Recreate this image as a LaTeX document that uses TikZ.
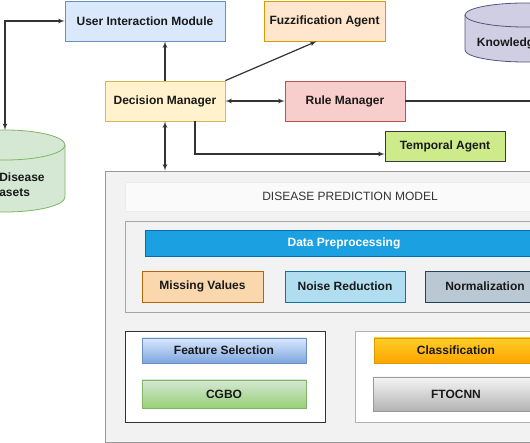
\documentclass[tikz,border=0pt]{standalone}
\usepackage{fontspec}
\setmainfont{Liberation Sans}
\usepackage{xcolor}
\usetikzlibrary{shapes,arrows}
\definecolor{uimfill}{HTML}{DAE8FC}
\definecolor{uimline}{HTML}{6C8EBF}
\definecolor{fuzzfill}{HTML}{FFE6CC}
\definecolor{fuzzline}{HTML}{D79B00}
\definecolor{dmfill}{HTML}{FFF2CC}
\definecolor{dmline}{HTML}{D6B656}
\definecolor{rulefill}{HTML}{F8CECC}
\definecolor{ruleline}{HTML}{B85450}
\definecolor{tempfill}{HTML}{CDEB8B}
\definecolor{templine}{HTML}{36393D}
\definecolor{kbfill}{HTML}{D0CEE2}
\definecolor{kbline}{HTML}{56517E}
\definecolor{datafill}{HTML}{D5E8D4}
\definecolor{dataline}{HTML}{82B366}
\definecolor{prepfill}{HTML}{1BA1E2}
\definecolor{prepline}{HTML}{006EAF}
\definecolor{missfill}{HTML}{FAD7AC}
\definecolor{missline}{HTML}{B46504}
\definecolor{noisefill}{HTML}{B1DDF0}
\definecolor{noiseline}{HTML}{10739E}
\definecolor{normfill}{HTML}{BAC8D3}
\definecolor{normline}{HTML}{23445D}
\definecolor{modelfill}{HTML}{F2F2F2}
\definecolor{fstop}{HTML}{DAE8FC}
\definecolor{fsbot}{HTML}{7EA6E0}
\definecolor{cgbotop}{HTML}{D5E8D4}
\definecolor{cgbobot}{HTML}{97D077}
\definecolor{clstop}{HTML}{FFCD28}
\definecolor{clsbot}{HTML}{FFA500}
\definecolor{cnntop}{HTML}{F5F5F5}
\definecolor{cnnbot}{HTML}{B3B3B3}
\tikzstyle{line} = [draw=black!80, line width=1.2pt, -latex']
\tikzstyle{twoway} = [draw=black!80, line width=1.2pt, latex'-latex']
\tikzstyle{box} = [draw, line width=0.8pt, inner sep=0pt, text=black!90,
  font=\bfseries\fontsize{12}{14}\selectfont]

\begin{document}
\begin{tikzpicture}[x=1pt,y=-1pt]
\useasboundingbox (0,0) rectangle (530,443);
%
\node[box, draw=uimline, fill=uimfill, minimum width=160pt, minimum height=40pt] (uim) at (145,21) {User Interaction Module};
\node[box, draw=fuzzline, fill=fuzzfill, minimum width=121pt, minimum height=40pt] (fuzz) at (324.5,21) {Fuzzification Agent};
\node[box, draw=dmline, fill=dmfill, minimum width=120pt, minimum height=40pt] (dm) at (165,101) {Decision Manager};
\node[box, draw=ruleline, fill=rulefill, minimum width=120pt, minimum height=40pt] (rule) at (345,101) {Rule Manager};
\node[box, draw=templine, fill=tempfill, minimum width=120pt, minimum height=30pt] (tempo) at (445,146) {Temporal Agent};
%
\filldraw[draw=kbline, fill=kbfill, line width=0.8pt] (465,15) -- (465,50) arc[start angle=180, end angle=360, x radius=60pt, y radius=12pt] -- (585,15) arc[start angle=0, end angle=180, x radius=60pt, y radius=12pt] -- cycle;
\draw[kbline, line width=0.8pt] (465,15) arc[start angle=180, end angle=360, x radius=60pt, y radius=12pt];
\node[font=\bfseries\fontsize{12}{14}\selectfont, text=black!90] (kb) at (525,43) {Knowledge Base};
\coordinate (kbin) at (533,62);
%
\filldraw[draw=dataline, fill=datafill, line width=0.8pt] (-55,145) -- (-55,197) arc[start angle=180, end angle=360, x radius=60pt, y radius=15pt] -- (65,145) arc[start angle=0, end angle=180, x radius=60pt, y radius=15pt] -- cycle;
\draw[dataline, line width=0.8pt] (-55,145) arc[start angle=180, end angle=360, x radius=60pt, y radius=15pt];
\node[font=\bfseries\fontsize{12}{15}\selectfont, text=black!90, align=center] (data) at (5,184.5) {Heart Disease\\Datasets};
\coordinate (datatop) at (5,130);
%
\node[draw=gray!80, fill=modelfill, line width=0.8pt, minimum width=490pt, minimum height=271pt] (model) at (350,306.5) {};
\node[draw=gray!15, fill=gray!4, minimum width=450pt, minimum height=29pt, font=\fontsize{12}{14}\selectfont, text=black!80] (title) at (350,196.5) {DISEASE PREDICTION MODEL};
%
\node[draw=gray!70, fill=modelfill, line width=0.8pt, minimum width=450pt, minimum height=91pt] (prep) at (350,266.5) {};
\node[box, draw=prepline, fill=prepfill, text=white, minimum width=398pt, minimum height=26pt] (prepbar) at (344,243) {Data Preprocessing};
\node[box, draw=missline, fill=missfill, minimum width=121pt, minimum height=31pt] (miss) at (202.5,286.5) {Missing Values};
\node[box, draw=noiseline, fill=noisefill, minimum width=120pt, minimum height=31pt] (noise) at (345,286.5) {Noise Reduction};
\node[box, draw=normline, fill=normfill, minimum width=120pt, minimum height=31pt] (norm) at (485,286.5) {Normalization};
%
\node[draw=black!80, fill=white, line width=0.8pt, minimum width=200pt, minimum height=91pt] (fsgroup) at (225,376.5) {};
\node[box, draw=uimline, top color=fstop, bottom color=fsbot, minimum width=164pt, minimum height=25pt] (fs) at (224,350.5) {Feature Selection};
\node[box, draw=dataline, top color=cgbotop, bottom color=cgbobot, minimum width=164pt, minimum height=28pt] (cgbo) at (224,394) {CGBO};
%
\node[draw=gray!60, fill=white, line width=0.8pt, minimum width=200pt, minimum height=91pt] (clsgroup) at (455,376.5) {};
\node[box, draw=fuzzline, top color=clstop, bottom color=clsbot, minimum width=164pt, minimum height=25pt] (cls) at (456,350.5) {Classification};
\node[box, draw=gray!80, top color=cnntop, bottom color=cnnbot, minimum width=166pt, minimum height=34pt] (cnn) at (456,394) {FTOCNN};
%
\path[twoway] (uim.west) -| (datatop);
\path[line] (dm.north) -- (dm.north |- uim.south);
\path[line] (dm.north east) -- ([xshift=-8pt]fuzz.south);
\path[twoway] (dm.east) -- (rule.west);
\path[line] (rule.east) -| (kbin);
\path[line] ([xshift=30pt]dm.south) |- ([yshift=-8pt]tempo.west);
\path[twoway] (dm.south) -- (dm.south |- model.north);
\end{tikzpicture}
\end{document}
